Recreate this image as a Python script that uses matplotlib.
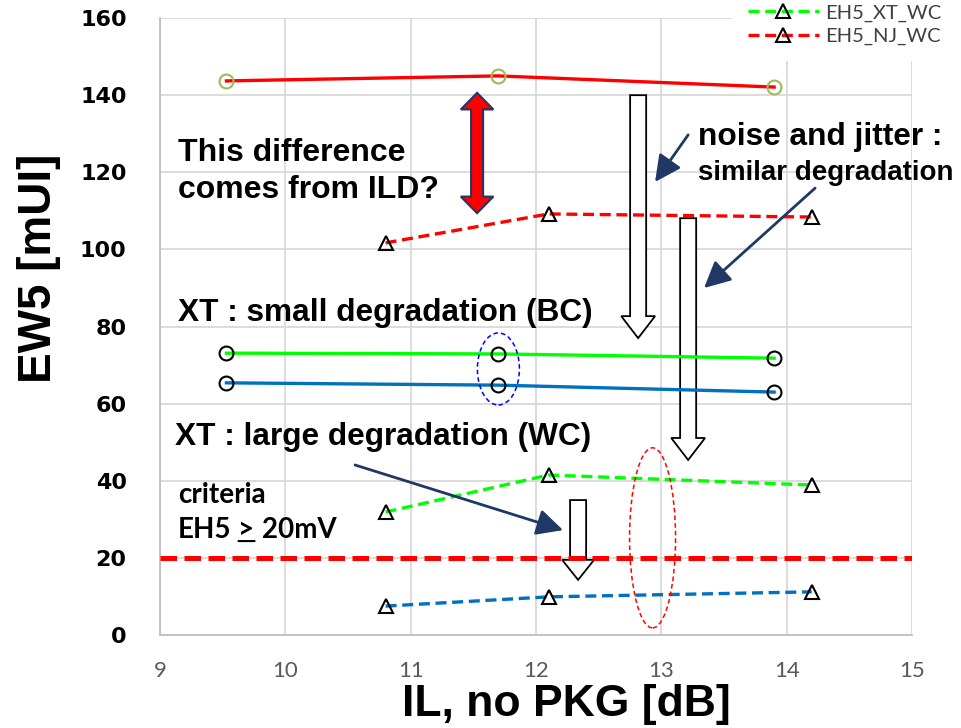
import matplotlib.pyplot as plt
from matplotlib.patches import Ellipse, FancyArrow, Polygon
from matplotlib.lines import Line2D

# IL without package [dB]
il_bc = [9.53, 11.70, 13.90]
il_wc = [10.80, 12.10, 14.20]

# EW5 [mUI]
nj_bc = [143.7, 145.0, 142.1]
nj_wc = [101.7, 109.2, 108.4]
xt_bc = [73.1, 72.9, 71.8]
xt_wc = [31.9, 41.5, 38.9]
base_bc = [65.4, 64.8, 63.0]
base_wc = [7.5, 9.9, 11.2]

criteria = 20
x_ticks = [9, 10, 11, 12, 13, 14, 15]
y_ticks = [0, 20, 40, 60, 80, 100, 120, 140, 160]

RED = "#FF0000"
GREEN = "#00FF00"
BLUE = "#0070C0"
NAVY = "#1F3864"
BOLD = "Liberation Sans"


def double_arrow(x, y0, y1, sw, hw, hl):
    pts = [
        (x, y0), (x + hw, y0 + hl), (x + sw, y0 + hl), (x + sw, y1 - hl),
        (x + hw, y1 - hl), (x, y1), (x - hw, y1 - hl), (x - sw, y1 - hl),
        (x - sw, y0 + hl), (x - hw, y0 + hl),
    ]
    return Polygon(pts, closed=True, fc=RED, ec=NAVY, lw=1.5, zorder=3)


def draw():
    fig = plt.figure(figsize=(9.61, 7.28), dpi=100)
    ax = fig.add_axes([0.1665, 0.1277, 0.7825, 0.8475])

    lw = 2.4
    dash = (3.3, 1.7)
    ax.plot(il_bc, nj_bc, color=RED, lw=lw, marker="o", ms=10,
            mfc="none", mec="#9BBB59", mew=1.5, zorder=4)
    ax.plot(il_bc, xt_bc, color=GREEN, lw=lw, marker="o", ms=10,
            mfc="none", mec="black", mew=1.5, zorder=4)
    ax.plot(il_bc, base_bc, color=BLUE, lw=lw, marker="o", ms=10,
            mfc="none", mec="black", mew=1.5, zorder=4)
    ax.plot(il_wc, nj_wc, color=RED, lw=lw, dashes=dash, marker="^", ms=10,
            mfc="none", mec="black", mew=1.5, zorder=4)
    ax.plot(il_wc, xt_wc, color=GREEN, lw=lw, dashes=dash, marker="^", ms=10,
            mfc="none", mec="black", mew=1.5, zorder=4)
    ax.plot(il_wc, base_wc, color=BLUE, lw=lw, dashes=dash, marker="^", ms=10,
            mfc="none", mec="black", mew=1.5, zorder=4)

    ax.axhline(criteria, color=RED, lw=3.6, dashes=(3.3, 1.5), zorder=4)

    ax.set_xlim(9, 15)
    ax.set_ylim(0, 160)
    ax.set_xticks(x_ticks)
    ax.set_yticks(y_ticks)
    ax.grid(True, color="#D9D9D9", lw=1.3, zorder=0)
    ax.set_axisbelow(True)
    for s in ["top", "right"]:
        ax.spines[s].set_visible(False)
    for s in ["left", "bottom"]:
        ax.spines[s].set_color("#BFBFBF")
        ax.spines[s].set_linewidth(1.3)
    ax.tick_params(axis="both", length=0)
    ax.tick_params(axis="y", pad=24)
    ax.tick_params(axis="x", pad=19)
    for t in ax.get_yticklabels():
        t.set_fontfamily("DejaVu Sans")
        t.set_fontweight("bold")
        t.set_fontsize(16)
    for t in ax.get_xticklabels():
        t.set_fontfamily("Lato")
        t.set_fontsize(16)
        t.set_color("#595959")

    ax.set_ylabel("EW5 [mUI]", family=BOLD, weight="bold", fontsize=33,
                  va="center", ha="center")
    ax.yaxis.set_label_coords(-0.161, 0.595)
    ax.set_xlabel("IL, no PKG [dB]", family=BOLD, weight="bold", fontsize=32,
                  va="center", ha="center")
    ax.xaxis.set_label_coords(0.541, -0.112)

    # hollow arrows
    for x, y0, y1, w, hw, hl in [
        (12.815, 140.0, 77.0, 0.128, 0.27, 5.7),
        (13.214, 108.1, 45.4, 0.128, 0.27, 5.7),
        (12.336, 35.0, 14.3, 0.128, 0.255, 5.2),
    ]:
        ax.add_patch(FancyArrow(x, y0, 0, y1 - y0, width=w, head_width=hw,
                                head_length=hl, length_includes_head=True,
                                fc="white", ec="black", lw=1.3, zorder=2))

    ax.add_patch(double_arrow(11.53, 109.4, 140.6, 0.048, 0.13, 4.3))

    ax.add_patch(Ellipse((11.70, 69.0), 0.335, 18.7, fill=False, ec="#0000FF",
                         lw=1.1, ls=(0, (3, 2)), zorder=5))
    ax.add_patch(Ellipse((12.93, 25.2), 0.367, 46.7, fill=False, ec=RED,
                         lw=1.1, ls=(0, (3, 2)), zorder=5))

    arrow = dict(arrowstyle="-|>,head_length=0.8,head_width=0.4",
                 mutation_scale=20, color=NAVY, lw=2, shrinkA=0, shrinkB=0)
    ax.annotate("", xy=(12.95, 117.5), xytext=(13.214, 129.7), arrowprops=arrow, zorder=6)
    ax.annotate("", xy=(13.341, 90.0), xytext=(14.227, 115.9), arrowprops=arrow, zorder=6)
    ax.annotate("", xy=(12.216, 27.2), xytext=(10.556, 44.1), arrowprops=arrow, zorder=6)

    tkw = dict(family=BOLD, weight="bold", va="center", ha="left", zorder=6)
    ax.text(9.144, 125.0, "This difference", fontsize=23, **tkw)
    ax.text(9.144, 115.4, "comes from ILD?", fontsize=23, **tkw)
    ax.text(9.144, 83.5, "XT : small degradation (BC)", fontsize=22.8, **tkw)
    ax.text(9.12, 51.3, "XT : large degradation (WC)", fontsize=22.8, **tkw)
    ax.text(13.294, 129.1, "noise and jitter :", fontsize=22.8, **tkw)
    ax.text(13.294, 119.8, "similar degradation", fontsize=20, **tkw)

    ckw = dict(family="Lato", weight="bold", fontsize=20, zorder=6)
    ax.text(9.144, 36.3, "criteria", va="center", ha="left", **ckw)
    t1 = ax.text(9.144, 27.2, "EH5", va="center", ha="left", **ckw)
    t2 = ax.annotate(">", xy=(1, 0), xycoords=t1, xytext=(5, 0),
                     textcoords="offset points", va="bottom", ha="left", **ckw)
    ax.annotate("", xy=(1, 0.08), xycoords=t2, xytext=(0, 0.08), textcoords=t2,
                arrowprops=dict(arrowstyle="-", lw=1.5, color="black",
                                shrinkA=0, shrinkB=0), zorder=6)
    ax.annotate("20mV", xy=(1, 0), xycoords=t2, xytext=(5, 0),
                textcoords="offset points", va="bottom", ha="left", **ckw)

    handles = [
        Line2D([], [], color=GREEN, lw=lw, dashes=dash, marker="^", ms=10,
               mfc="none", mec="black", mew=1.5),
        Line2D([], [], color=RED, lw=lw, dashes=dash, marker="^", ms=10,
               mfc="none", mec="black", mew=1.5),
    ]
    leg = ax.legend(handles, ["EH5_XT_WC", "EH5_NJ_WC"], loc="upper left",
                    bbox_to_anchor=(722 / 961, 1.03), bbox_transform=fig.transFigure,
                    frameon=True, fancybox=False, edgecolor="none", facecolor="white",
                    framealpha=1, handlelength=3.5, handletextpad=0.3,
                    labelspacing=0.3, borderpad=0.8,
                    prop=dict(family="Lato", size=14.5))
    for t in leg.get_texts():
        t.set_color("#404040")
    leg.set_zorder(10)

    plt.savefig("out.png", dpi=100)


def main():
    draw()


if __name__ == "__main__":
    main()
